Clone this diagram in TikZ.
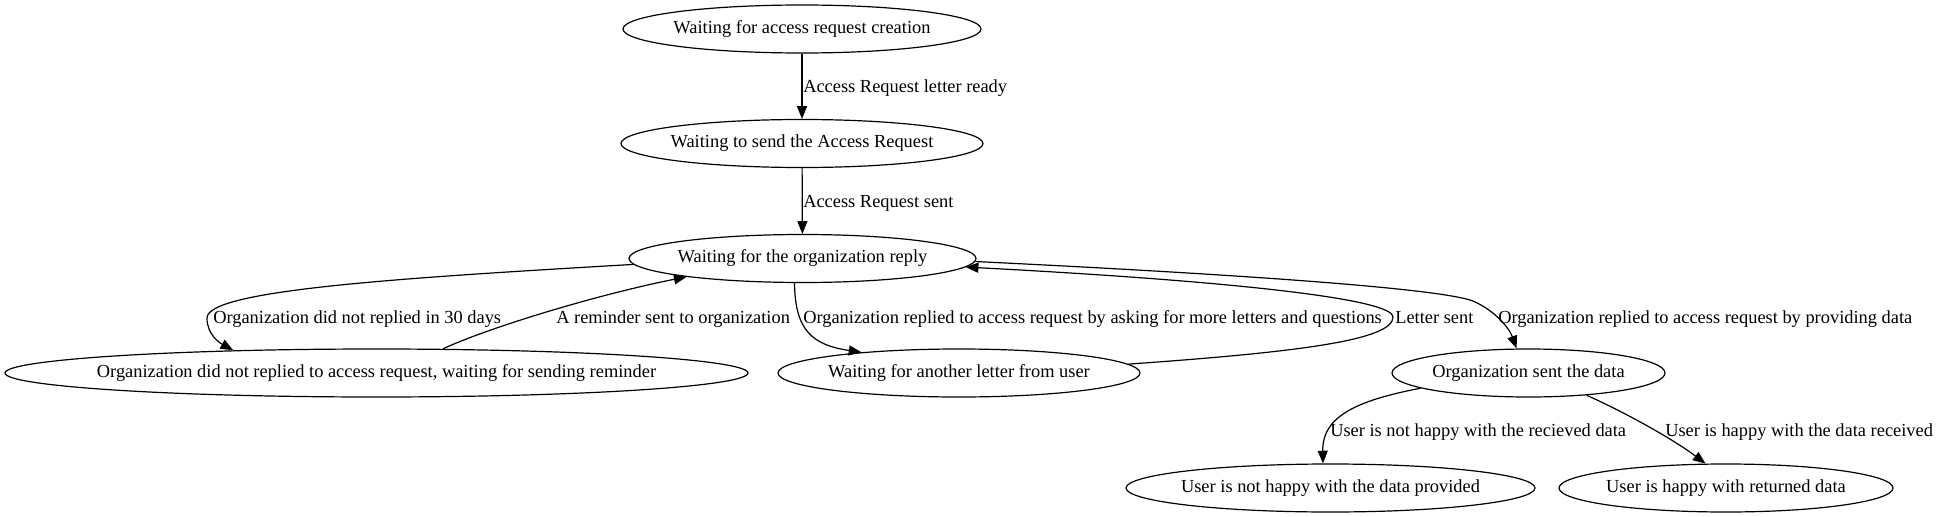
\documentclass[tikz,border=0pt]{standalone}
\usepackage{fontspec}
\setmainfont{Liberation Serif}
\usetikzlibrary{arrows.meta,shapes.geometric}

\begin{document}
\begin{tikzpicture}[x=0.75pt,y=-0.75pt,
    state/.style={draw,ellipse,line width=0.9pt,inner xsep=-40pt,inner ysep=0pt,
      minimum height=36pt,font=\fontsize{13.8}{16}\selectfont},
    lbl/.style={anchor=base west,inner sep=0pt,font=\fontsize{13.8}{16}\selectfont},
    flow/.style={line width=0.9pt,-{Triangle[length=9.5pt,width=7.5pt]}}]
  \useasboundingbox (0,0) rectangle (1941,517);
  % states
  \node[state,minimum width=268.5pt] (creation) at (802,29) {Waiting for access request creation};
  \node[state,minimum width=271.5pt] (tosend) at (802,143.5) {Waiting to send the Access Request};
  \node[state,minimum width=260.25pt] (reply) at (802.5,258.5) {Waiting for the organization reply};
  \node[state,minimum width=557.25pt] (noreply) at (376.5,373) {Organization did not replied to access request, waiting for sending reminder};
  \node[state,minimum width=271.5pt] (another) at (959,373) {Waiting for another letter from user};
  \node[state,minimum width=204.75pt] (sent) at (1528.5,373) {Organization sent the data};
  \node[state,minimum width=306.75pt] (unhappy) at (1330.5,488) {User is not happy with the data provided};
  \node[state,minimum width=250.5pt] (happy) at (1726,488) {User is happy with returned data};
  % transitions
  \draw[flow] (creation) -- (tosend);
  \draw[flow] (tosend) -- (reply);
  \draw[flow] (reply.182) .. controls (400,278) and (207,290) .. (207,318)
    .. controls (207,335) and (220,343) .. (noreply.171);
  \draw[flow] (noreply.20) .. controls (490,327) and (600,294) .. (reply.189);
  \draw[flow] (reply.252) .. controls (795,330) and (812,345) .. (another.168);
  \draw[flow] (another.3) .. controls (1300,352) and (1393,340) .. (1393,317)
    .. controls (1393,300) and (1250,282) .. (reply.357);
  \draw[flow] (reply.359) .. controls (1150,270) and (1420,285) .. (1470,300)
    .. controls (1490,307) and (1508,325) .. (sent.116);
  \draw[flow] (sent.188) .. controls (1360,400) and (1322,415) .. (unhappy.107);
  \draw[flow] (sent.339) .. controls (1620,410) and (1670,437) .. (happy.130);
  % labels
  \node[lbl] (lready) at (803,93) {Access Request letter ready};
  \node[lbl] (lsent) at (803,207) {Access Request sent};
  \node[lbl] (lnoreply) at (213,323) {Organization did not replied in 30 days};
  \node[lbl] (lreminder) at (556,323) {A reminder sent to organization};
  \node[lbl] (lasking) at (803,323) {Organization replied to access request by asking for more letters and questions};
  \node[lbl] (lletter) at (1395,323) {Letter sent};
  \node[lbl] (lproviding) at (1498,323) {Organization replied to access request by providing data};
  \node[lbl] (lunhappy) at (1330,436) {User is not happy with the recieved data};
  \node[lbl] (lhappy) at (1665,436) {User is happy with the data received};
\end{tikzpicture}
\end{document}
